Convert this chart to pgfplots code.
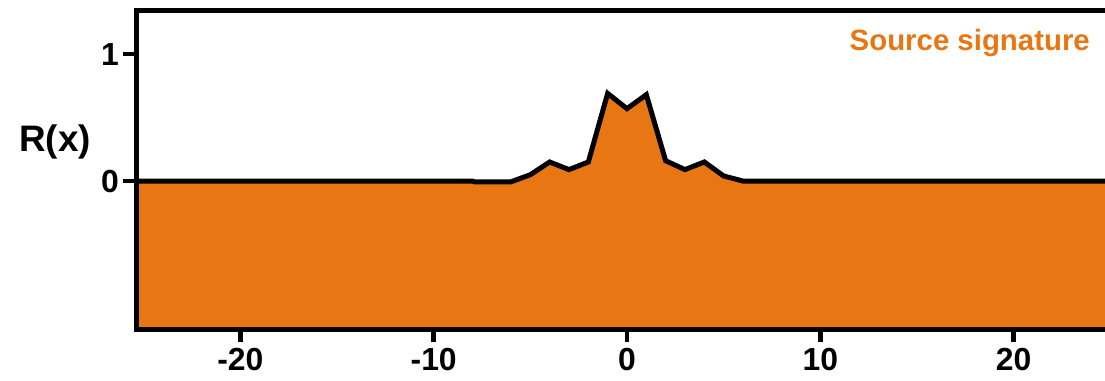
\documentclass[border=0pt]{standalone}
\usepackage{pgfplots}
\pgfplotsset{compat=1.18}
\usepackage{fontspec}
\setmainfont{Liberation Sans}
\definecolor{sig}{RGB}{232,118,18}
\begin{document}
\begin{tikzpicture}[x=1bp,y=1bp]
\useasboundingbox (0,0) rectangle (1105,380);
\begin{axis}[at={(136bp,51bp)}, anchor=south west, scale only axis,
 width=969bp, height=318bp,
 xmin=-25.4, xmax=24.73, ymin=-1.165, ymax=1.339,
 axis line style={draw=none},
 xtick={-20,-10,0,10,20}, ytick={0,1},
 tick align=outside, major tick length=13bp,
 xtick pos=bottom, ytick pos=left,
 every tick/.style={black, line width=4.5bp},
 /pgf/number format/assume math mode=true,
 xticklabel style={font=\fontsize{32}{32}\selectfont\bfseries, inner sep=6bp},
 yticklabel style={font=\fontsize{32}{32}\selectfont\bfseries, inner sep=4bp},
 clip=false,
]
\addplot[fill=sig, draw=none] coordinates {
(-25.4,-1.165) (-25.4,0) (-21,0) (-8,0) (-7.9,-0.006) (-6,-0.006) (-5,0.05) (-4,0.15) (-3,0.09) (-2,0.15) (-1,0.69) (0,0.57) (1,0.68) (2,0.16) (3,0.09) (4,0.15) (5,0.04) (6,0) (24.73,0) (24.73,-1.165)};
\addplot[black, line width=5bp, line join=miter, miter limit=3] coordinates {
(-25.4,0) (-21,0) (-8,0) (-7.9,-0.006) (-6,-0.006) (-5,0.05) (-4,0.15) (-3,0.09) (-2,0.15) (-1,0.69) (0,0.57) (1,0.68) (2,0.16) (3,0.09) (4,0.15) (5,0.04) (6,0) (24.73,0)};
\draw[black, line width=5bp] (rel axis cs:1.01,1) -- (rel axis cs:0,1) -- (rel axis cs:0,0) -- (rel axis cs:1.01,0);
\end{axis}
\node[anchor=center, font=\fontsize{37}{37}\selectfont\bfseries] at (55,238) {R(x)};
\node[anchor=base east, text=sig, font=\fontsize{29.5}{29.5}\selectfont\bfseries, inner sep=0pt] at (1090,330) {Source signature};
\end{tikzpicture}
\end{document}
